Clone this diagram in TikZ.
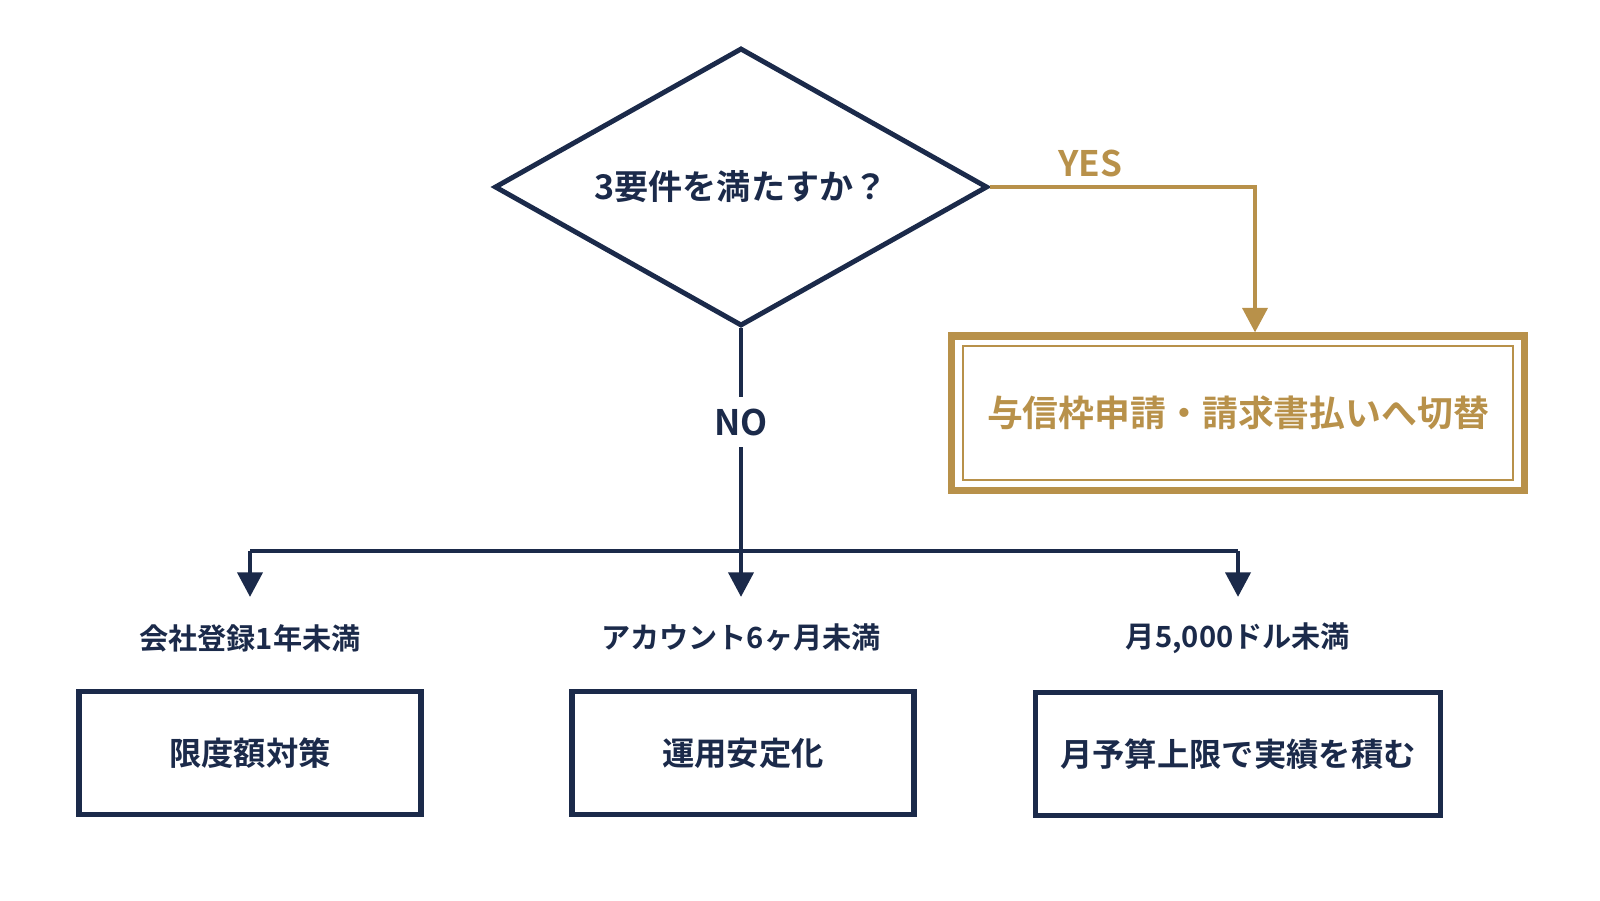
\documentclass[tikz,border=0pt]{standalone}
\usepackage{fontspec}
\setmainfont{Noto Sans CJK JP}[BoldFont={* Bold}]
\usetikzlibrary{shapes.geometric,arrows.meta}
\definecolor{navy}{HTML}{1B2A4A}
\definecolor{gold}{HTML}{B8914A}
\begin{document}
\begin{tikzpicture}[
        line/.style={draw=navy, line width=1.4pt},
        tip/.style={-{Triangle[length=7pt,width=7pt]}},
        box/.style={draw=navy, line width=1.6pt, minimum width=3.42cm, minimum height=1.23cm, font=\bfseries\fontsize{9.2pt}{11pt}\selectfont, text=navy},
        cond/.style={font=\bfseries\fontsize{8.3pt}{10pt}\selectfont, text=navy}
    ]
        \useasboundingbox (0, 0) rectangle (16, -9);

        \node[diamond, line, inner sep=0pt, minimum width=4.93cm, minimum height=2.78cm] (ask) at (7.41, -1.87) {};
        \node[font=\bfseries\fontsize{9.7pt}{12pt}\selectfont, text=navy] (ask_text) at (ask.center) {3要件を満たすか？};

        \node[draw=gold, line width=2pt, minimum width=5.73cm, minimum height=1.54cm] (goal) at (12.38, -4.13) {};
        \node[draw=gold, line width=0.6pt, minimum width=5.5cm, minimum height=1.34cm] (goal_in) at (goal.center) {};
        \node[font=\bfseries\fontsize{10.2pt}{12pt}\selectfont, text=gold] (goal_text) at (goal.center) {与信枠申請・請求書払いへ切替};

        \coordinate (turn) at (12.55, -1.87);
        \draw[draw=gold, line width=1.4pt, tip] (ask.east) -- (turn) -- (turn |- goal.north);
        \node[font=\bfseries, text=gold] (yes) at (10.9, -1.63) {YES};

        \coordinate (split) at (7.41, -5.51);
        \coordinate (left) at (2.5, -5.51);
        \coordinate (right) at (12.38, -5.51);
        \draw[line] (ask.south) -- (split);
        \node[fill=white, font=\bfseries, text=navy] (no) at (7.41, -4.22) {NO};
        \draw[line] (left) -- (right);

        \node[cond] (c1) at (2.5, -6.38) {会社登録1年未満};
        \node[cond] (c2) at (7.41, -6.38) {アカウント6ヶ月未満};
        \node[cond] (c3) at (12.38, -6.38) {月5,000ドル未満};

        \draw[line, tip] (left) -- (2.5, -5.97);
        \draw[line, tip] (split) -- (7.41, -5.97);
        \draw[line, tip] (right) -- (12.38, -5.97);

        \node[box] (b1) at (2.5, -7.53) {限度額対策};
        \node[box] (b2) at (7.43, -7.53) {運用安定化};
        \node[box, minimum width=4.05cm] (b3) at (12.38, -7.54) {月予算上限で実績を積む};
    \end{tikzpicture}
\end{document}
